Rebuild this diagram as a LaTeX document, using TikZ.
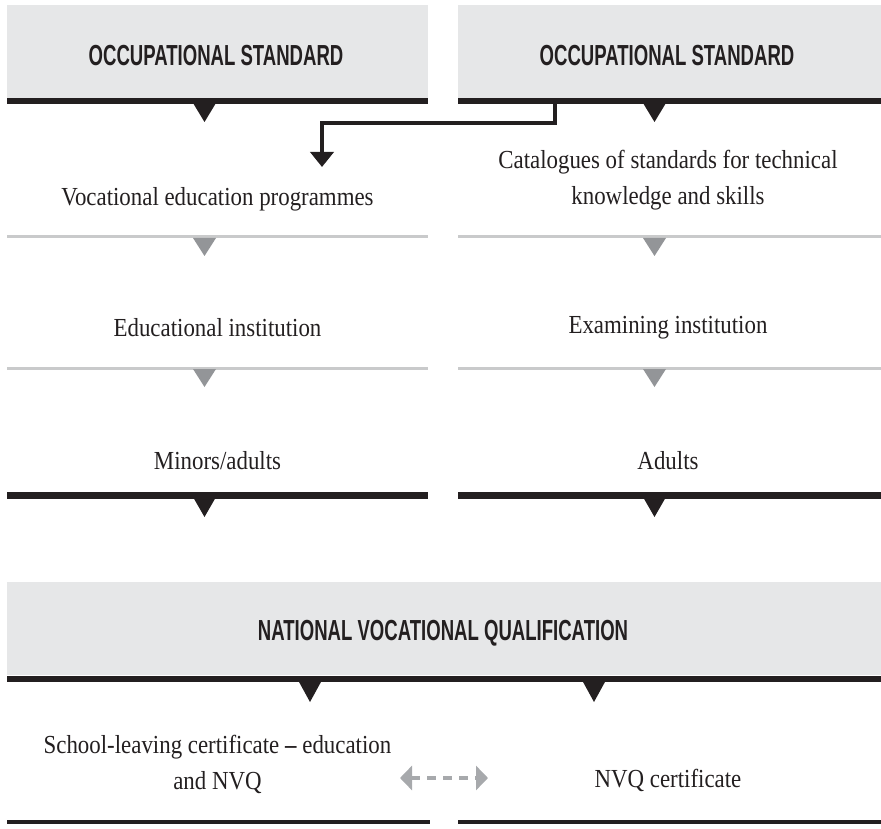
\documentclass[tikz,border=0pt]{standalone}
\usepackage{fontspec}
\setmainfont{Liberation Serif}[FakeStretch=0.88]
\newfontfamily\headfont{Liberation Sans}[FakeStretch=0.64]
\usetikzlibrary{arrows.meta}
\definecolor{boxgray}{HTML}{E6E7E8}
\definecolor{linegray}{HTML}{C9CACB}
\definecolor{trigray}{HTML}{939598}
\definecolor{ink}{HTML}{231F20}
\definecolor{dashgray}{HTML}{A7A9AC}
\tikzset{
  hdrbox/.style={fill=boxgray, draw=none, inner sep=0pt},
  hdrtext/.style={font=\headfont\bfseries\fontsize{29}{31}\selectfont, text=ink, inner sep=0pt},
  bodytext/.style={font=\fontsize{26}{36}\selectfont, text=ink, align=center, inner sep=0pt},
  blackbar/.style={line width=6.5pt, ink},
  graybar/.style={line width=3pt, linegray},
  darkbar/.style={line width=3.5pt, ink},
  blacktri/.style={fill=ink},
  graytri/.style={fill=trigray},
}
\begin{document}
\begin{tikzpicture}[x=1pt,y=-1pt]
\useasboundingbox (0,0) rectangle (881,829);
% header boxes
\node[hdrbox, minimum width=421pt, minimum height=93pt] (os1box) at (217.5,51.5) {};
\node[hdrbox, minimum width=423pt, minimum height=93pt] (os2box) at (669.5,51.5) {};
\node[hdrtext] (os1) at (216,56) {OCCUPATIONAL STANDARD};
\node[hdrtext] (os2) at (667,56) {OCCUPATIONAL STANDARD};
\draw[blackbar] (7,101) -- (428,101);
\draw[blackbar] (458,101) -- (881,101);
\fill[blacktri] (193,103) -- (216,103) -- (204.5,122) -- cycle;
\fill[blacktri] (643,103) -- (666,103) -- (654.5,122) -- cycle;
% texts row 1
\node[bodytext] (vep) at (217.5,199) {Vocational education programmes};
\node[bodytext] (cat) at (668,180) {Catalogues of standards for technical\\knowledge and skills};
% elbow arrow
\coordinate (ea) at (555,103);
\coordinate (eb) at (322,167);
\draw[line width=4pt, ink, -{Triangle[width=23pt,length=15pt]}] (ea) -- (555,123.5) -- (322,123.5) -- (eb);
% gray bars
\draw[graybar] (7,237) -- (428,237);
\draw[graybar] (458,237) -- (881,237);
\fill[graytri] (193,238) -- (216,238) -- (204.5,256) -- cycle;
\fill[graytri] (643,238) -- (666,238) -- (654.5,256) -- cycle;
% row 2
\node[bodytext] (edu) at (217.5,328) {Educational institution};
\node[bodytext] (exa) at (668,328) {Examining institution};
\draw[graybar] (7,368) -- (428,368);
\draw[graybar] (458,368) -- (881,368);
\fill[graytri] (193,369) -- (216,369) -- (204.5,387) -- cycle;
\fill[graytri] (643,369) -- (666,369) -- (654.5,387) -- cycle;
% row 3
\node[bodytext] (min) at (217.5,461) {Minors/adults};
\node[bodytext] (adu) at (668,461) {Adults};
\draw[blackbar] (7,495.5) -- (428,495.5);
\draw[blackbar] (458,495.5) -- (881,495.5);
\fill[blacktri] (193,497) -- (216,497) -- (204.5,517) -- cycle;
\fill[blacktri] (643,497) -- (666,497) -- (654.5,517) -- cycle;
% bottom header
\node[hdrbox, minimum width=874pt, minimum height=93pt] (nvqbox) at (444,628.5) {};
\node[hdrtext] (nvq) at (443,633) {NATIONAL VOCATIONAL QUALIFICATION};
\draw[blackbar] (7,679) -- (881,679);
\fill[blacktri] (298.5,681) -- (321.5,681) -- (310,702) -- cycle;
\fill[blacktri] (582.5,681) -- (605.5,681) -- (594,702) -- cycle;
% bottom texts
\node[bodytext] (slc) at (217.5,764) {School-leaving certificate \textbf{--} education\\and NVQ};
\node[bodytext] (nvc) at (668,780) {NVQ certificate};
\coordinate (da) at (400,778);
\coordinate (db) at (488,778);
\draw[line width=4pt, dashgray, dash pattern=on 9pt off 7pt, {Triangle[width=24pt,length=12pt]}-{Triangle[width=24pt,length=12pt]}] (da) -- (db);
\draw[darkbar] (7,822) -- (430,822);
\draw[darkbar] (458,822) -- (881,822);
\end{tikzpicture}
\end{document}
